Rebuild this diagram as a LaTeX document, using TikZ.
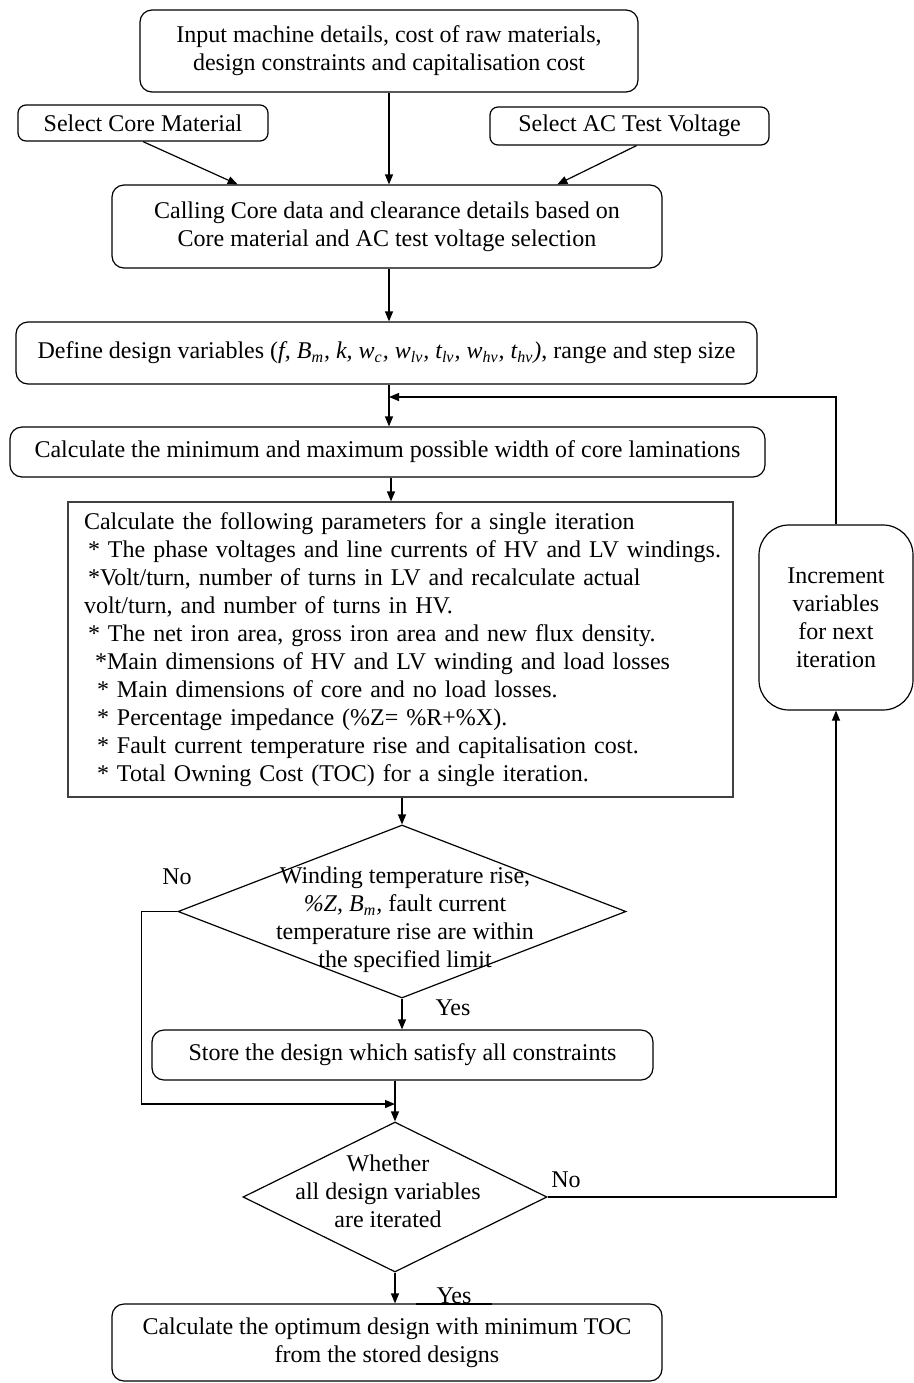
\documentclass[tikz,border=0pt]{standalone}
\usepackage{fontspec}
\setmainfont{Liberation Serif}
\usetikzlibrary{arrows.meta,shapes.geometric,calc}
\begin{document}
\begin{tikzpicture}[x=0.5pt, y=-0.5pt, >={Triangle[length=5pt,width=4pt]},
    font=\fontsize{12}{14}\selectfont,
    box/.style={draw, rounded corners=6pt, align=center, inner sep=0pt, line width=0.6pt},
    selbox/.style={box, rounded corners=4pt},
    parbox/.style={draw=black!75, inner sep=0pt, line width=0.6pt},
    decision/.style={draw, diamond, inner sep=0pt, line width=0.6pt},
    arr/.style={->, line width=0.6pt},
    link/.style={line width=0.6pt}]
    \useasboundingbox (0,0) rectangle (914,1383);

    % Inputs
    \node[box, minimum width=249pt, minimum height=41pt] (input) at (389,51)
        {Input machine details, cost of raw materials,\\design constraints and capitalisation cost};
    \node[selbox, minimum width=125pt, minimum height=18pt] (selcore) at (143,123) {Select Core Material};
    \node[selbox, minimum width=139.5pt, minimum height=19pt] (selac) at (629.5,126) {Select AC Test Voltage};
    \node[box, minimum width=275pt, minimum height=41.5pt] (coredata) at (387,226.5)
        {Calling Core data and clearance details based on\\Core material and AC test voltage selection};

    % Design variables
    \node[box, minimum width=370.5pt, minimum height=31pt] (define) at (386.5,353)
        {Define design variables (\textit{f, B\textsubscript{m}, k, w\textsubscript{c}, w\textsubscript{lv}, t\textsubscript{lv}, w\textsubscript{hv}, t\textsubscript{hv})}, range and step size};
    \node[box, minimum width=377.5pt, minimum height=25pt] (width) at (387.5,452)
        {Calculate the minimum and maximum possible width of core laminations};

    % Single iteration
    \node[parbox, minimum width=332.5pt, minimum height=147.5pt, inner xsep=4pt,
          text width=324.5pt, align=left] (param) at (400.5,649.5)
        {\hspace*{4pt}Calculate the following parameters for a single iteration\\
         \hspace*{6pt}* The phase voltages and line currents of HV and LV windings.\\
         \hspace*{6pt}*Volt/turn, number of turns in LV and recalculate actual\\
         \hspace*{4pt}volt/turn, and number of turns in HV.\\
         \hspace*{6pt}* The net iron area, gross iron area and new flux density.\\
         \hspace*{9.5pt}*Main dimensions of HV and LV winding and load losses\\
         \hspace*{10.5pt}* Main dimensions of core and no load losses.\\
         \hspace*{10.5pt}* Percentage impedance (\%Z= \%R+\%X).\\
         \hspace*{10.5pt}* Fault current temperature rise and capitalisation cost.\\
         \hspace*{10.5pt}* Total Owning Cost (TOC) for a single iteration.};

    % Checks
    \node[decision, minimum width=224pt, minimum height=86.5pt] (limit) at (402,911.5) {};
    \node[align=center, inner sep=0pt] (limittxt) at (405,920)
        {Winding temperature rise,\\\textit{\%Z, B\textsubscript{m},} fault current\\temperature rise are within\\the specified limit};
    \node[box, minimum width=250.5pt, minimum height=25pt] (store) at (402.5,1055)
        {Store the design which satisfy all constraints};
    \node[decision, minimum width=152pt, minimum height=75pt] (iter) at (395,1197) {};
    \node[align=center, inner sep=0pt] (itertxt) at (388,1191)
        {Whether\\all design variables\\are iterated};
    \node[box, rounded corners=15pt, minimum width=77pt, minimum height=92.5pt] (incr) at (836,617.5)
        {Increment\\variables\\for next\\iteration};
    \node[box, minimum width=275pt, minimum height=38.5pt] (optimum) at (387,1342.5)
        {Calculate the optimum design with minimum TOC\\from the stored designs};

    % Labels
    \node (no1) at (177,877) {No};
    \node (yes1) at (453,1008) {Yes};
    \node (no2) at (566,1180) {No};
    \node[minimum width=38pt, inner sep=0pt, anchor=south] (yes2) at (454,1304) {Yes};
    \draw[line width=1.2pt] (yes2.south west) -- (yes2.south east);

    % Connectors
    \draw[arr] (input.south) -- (input.south |- coredata.north);
    \draw[arr] (selcore.south) -- ($(coredata.north west)!0.229!(coredata.north east)$);
    \draw[arr] ($(selac.south)+(7,0)$) -- ($(coredata.north west)!0.809!(coredata.north east)$);
    \draw[arr] (coredata.south -| input.south) -- (define.north -| input.south);
    \draw[arr] (define.south -| input.south) -- (width.north -| input.south);
    \coordinate (back) at (input.south |- 0,397);
    \draw[arr] (incr.north) |- (back);
    \draw[arr] (width.south -| 391,0) -- (param.north -| 391,0);
    \draw[arr] (param.south -| limit.north) -- (limit.north);
    \draw[arr] (limit.south) -- (store.north -| limit.south);
    \coordinate (merge) at (iter.north |- 0,1104);
    \draw[arr] (limit.west) -- ++(-36,0) |- (merge);
    \draw[arr] (store.south -| iter.north) -- (iter.north);
    \draw[arr] (iter.east) -| (incr.south);
    \draw[arr] (iter.south) -- (iter.south |- optimum.north);
\end{tikzpicture}
\end{document}
